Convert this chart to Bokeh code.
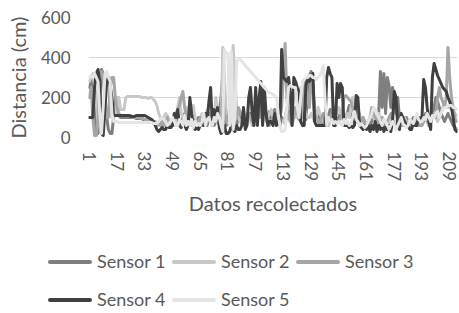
from bokeh.plotting import figure
from bokeh.layouts import column
from bokeh.models import FixedTicker, ColumnDataSource, Div
from bokeh.embed import file_html
from bokeh.resources import INLINE

sensor1 = [250,280,300,100,20,20,200,340,320,200,100,40,20,20,100,200,
           120,110,100,100,100,100,100,100,100,100,100,95,95,95,95,90,
           90,90,85,85,80,80,70,60,70,80,60,70,80,60,80,60,
           60,80,100,80,60,80,100,120,80,60,80,100,80,60,80,100,
           80,60,100,80,60,120,80,100,60,80,100,120,200,310,100,60,
           80,100,120,100,80,60,100,120,80,100,60,80,100,120,100,80,
           110,90,130,240,200,100,90,110,130,80,100,140,90,80,110,100,
           90,70,110,130,100,90,120,140,110,90,150,130,100,90,220,310,
           330,280,110,90,130,100,70,90,120,85,110,140,95,75,105,90,
           95,130,110,85,105,125,160,110,90,70,85,105,90,65,85,70,
           60,80,60,80,100,80,60,120,330,150,320,120,300,260,150,250,
           210,120,200,100,80,60,80,100,80,60,80,100,80,60,80,100,
           80,100,120,100,80,100,120,150,200,180,150,120,100,80,100,120,
           100,80,60,50,40]
sensor2 = [280,300,320,260,200,100,50,30,100,250,300,260,150,100,100,120,
           200,200,140,140,140,200,205,205,205,205,205,205,205,205,200,200,
           200,200,195,200,200,190,180,160,120,100,90,100,120,110,90,80,
           70,60,80,150,200,120,100,80,150,120,80,100,160,100,70,80,
           90,120,80,100,140,100,80,120,100,200,150,80,60,450,300,100,
           80,60,80,460,300,150,100,80,60,80,100,120,100,80,60,100,
           120,150,100,200,120,100,80,100,120,140,100,80,100,120,100,80,
           80,100,150,100,80,100,120,100,150,200,250,200,150,120,100,100,
           120,100,80,100,150,120,100,80,100,80,60,80,100,120,100,140,
           150,120,100,80,100,120,100,150,200,180,150,100,120,80,100,80,
           60,80,100,120,100,80,100,120,100,80,60,80,70,60,80,60,
           80,60,70,80,60,80,100,80,60,80,70,60,80,100,80,70,
           60,80,100,80,60,80,100,120,100,80,100,120,150,160,150,150,
           150,140,130,120,110]
sensor3 = [200,250,100,10,10,100,300,330,300,200,100,100,250,300,300,200,
           150,120,110,110,110,110,110,110,110,100,100,100,100,100,95,95,
           90,90,90,80,80,70,80,60,70,60,80,60,80,100,60,80,
           80,100,120,140,160,200,230,150,100,60,80,60,90,70,60,80,
           100,80,60,80,120,100,80,60,100,120,80,60,80,200,120,80,
           100,150,200,180,120,100,150,130,110,90,80,100,120,100,80,100,
           100,120,100,150,140,120,100,80,60,80,100,90,60,80,100,150,
           300,470,200,100,80,60,100,150,120,100,80,150,250,280,200,150,
           280,260,120,100,80,60,100,120,80,60,80,100,120,150,100,80,
           80,100,120,200,210,200,190,180,150,120,100,80,60,80,100,80,
           60,80,100,150,120,100,80,60,80,100,80,60,80,100,120,80,
           60,50,80,60,80,100,80,60,80,60,50,60,80,100,60,60,
           60,80,100,80,60,80,100,120,100,200,250,200,180,150,200,450,
           300,200,150,100,80]
sensor4 = [100,100,100,250,320,340,280,20,10,150,280,300,260,200,110,110,
           110,110,110,110,110,110,110,110,105,105,105,110,110,110,110,110,
           110,105,100,95,90,80,60,40,30,40,50,40,40,60,50,50,
           60,120,100,140,60,50,80,60,40,60,200,120,60,40,50,40,
           60,80,60,120,80,180,250,60,140,80,150,50,20,30,60,20,
           20,30,60,40,30,60,40,40,60,150,40,60,200,250,120,60,
           250,60,200,280,60,250,120,60,80,80,60,120,60,80,60,440,
           300,290,280,300,220,60,300,280,250,230,80,60,60,260,300,280,
           300,320,80,60,60,60,60,60,60,300,350,320,300,60,60,270,
           200,270,250,60,60,60,50,60,50,60,210,200,60,50,40,60,
           40,60,30,60,40,80,30,60,40,80,30,50,40,60,30,80,
           230,200,60,40,120,100,80,60,60,40,40,80,60,60,100,90,
           100,290,250,150,80,40,300,370,340,310,290,270,250,240,230,200,
           180,150,100,40,30]
sensor5 = [300,310,300,320,300,280,120,20,150,320,330,300,280,120,80,80,
           80,75,75,75,75,75,75,75,75,75,75,75,75,75,75,75,
           75,75,75,75,75,70,70,70,80,90,100,90,80,60,70,80,
           100,80,60,60,90,80,60,110,60,80,60,90,50,80,60,70,
           60,80,120,60,90,100,70,60,100,80,120,100,60,30,440,420,
           420,60,430,40,100,380,390,395,380,370,360,350,340,330,320,310,
           300,290,280,270,260,250,240,230,225,220,215,210,200,120,60,30,
           30,40,150,250,260,255,250,250,150,100,200,280,290,300,300,310,
           310,300,300,290,300,310,330,360,200,60,100,80,90,70,80,70,
           80,70,60,90,70,80,60,70,100,130,90,80,60,70,60,50,
           60,80,100,120,150,140,120,100,80,60,90,80,60,40,60,80,
           60,40,60,80,100,70,60,50,60,90,80,70,100,120,90,80,
           80,100,90,120,100,80,110,100,120,130,100,120,140,150,150,160,
           160,160,150,150,140]

names = ["Sensor 1", "Sensor 2", "Sensor 3", "Sensor 4", "Sensor 5"]
colors = ["#7f7f7f", "#c8c8c8", "#a5a5a5", "#404040", "#e4e4e4"]
series = [sensor1, sensor2, sensor3, sensor4, sensor5]
x_ticks = list(range(1, 210, 16))
y_ticks = [0, 200, 400, 600]

N = len(sensor1)
xs = list(range(1, N + 1))

FONT = "Lato"
TXT = "#595959"
W = 459
H_MAIN = 235
H_LEG = 78

p = figure(width=W, height=H_MAIN, output_backend="svg", toolbar_location=None,
           x_range=(0.5, N + 0.5), y_range=(0, 600),
           min_border_left=88, min_border_right=2, min_border_top=17, min_border_bottom=98)
p.outline_line_color = None
p.xgrid.grid_line_color = None
p.ygrid.grid_line_color = "#d9d9d9"
p.ygrid.grid_line_width = 1
p.yaxis.ticker = FixedTicker(ticks=y_ticks)
p.xaxis.ticker = FixedTicker(ticks=x_ticks)
for ax in (p.xaxis, p.yaxis):
    ax.axis_line_color = None
    ax.major_tick_line_color = None
    ax.minor_tick_line_color = None
    ax.major_tick_out = 0
    ax.major_tick_in = 0
    ax.major_label_text_font = FONT
    ax.major_label_text_color = TXT
    ax.axis_label_text_font = FONT
    ax.axis_label_text_color = TXT
    ax.axis_label_text_font_size = "20px"
    ax.axis_label_text_font_style = "normal"
p.yaxis.major_label_text_font_size = "17px"
p.xaxis.major_label_text_font_size = "17px"
p.xaxis.major_label_orientation = "vertical"
p.xaxis.major_label_standoff = 14
p.yaxis.major_label_standoff = 18
p.xaxis.axis_label = "Datos recolectados"
p.yaxis.axis_label = "Distancia (cm)"
p.xaxis.axis_label_standoff = 7
p.yaxis.axis_label_standoff = 8

for name, col, vals in zip(names, colors, series):
    src = ColumnDataSource(dict(x=xs, y=vals))
    p.line("x", "y", source=src, line_color=col, line_width=3,
           line_join="round", line_cap="round")

# legend (HTML, two rows like the reference)
item_pos = [(48, 27), (172, 27), (296, 27), (48, 65), (172, 65)]
parts = []
for (lx, cy), name, col in zip(item_pos, names, colors):
    parts.append(
        f'<div style="position:absolute;left:{lx}px;top:{cy - 12}px;height:24px;'
        f'display:flex;align-items:center;white-space:nowrap;">'
        f'<span style="display:inline-block;width:44px;height:4px;border-radius:2px;'
        f'background:{col};margin-right:5px;"></span>'
        f'<span>{name}</span></div>')
legend_html = (f'<div style="position:relative;width:{W}px;height:{H_LEG}px;'
               f'font-family:Lato;font-size:18px;color:{TXT};">' + "".join(parts) + '</div>')
leg = Div(text=legend_html, width=W, height=H_LEG, margin=0)

layout = column(p, leg, spacing=0)
open("out.html", "w").write(file_html(layout, INLINE))
